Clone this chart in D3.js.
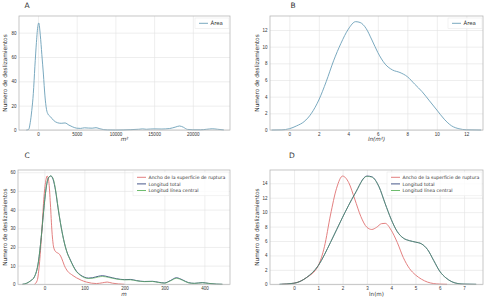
<!DOCTYPE html>
<html>
<head>
<meta charset="utf-8">
<script src="https://cdn.jsdelivr.net/npm/d3@7"></script>
<style>
  body { margin: 0; background: #fff; }
  svg { display: block; font-family: "DejaVu Sans", sans-serif; }
</style>
</head>
<body>
<svg id="chart" width="485" height="300"></svg>
<script>
// Datos (densidad escalada -> número de deslizamientos)

// A: área en m2
const areaX = [-1500, -1200, -1000, -800, -600, -400, -200, 0, 100, 300, 500, 700, 900, 1100, 1300, 1600, 2000, 2500, 3000, 3500, 4000, 4500, 5000, 5500, 6000, 6500, 7000, 7500, 8000, 8500, 9000, 10000, 11000, 12000, 13000, 13500, 14000, 14500, 15000, 16000, 17000, 17800, 18300, 18800, 19300, 20000, 21000, 21800, 22500, 23200, 24000];
const areaY = [0, 0.5, 6, 16, 30, 52, 72, 86, 88, 78, 62, 46, 28, 17, 13, 11, 8, 6, 5.5, 5.8, 4, 2.5, 1.5, 1.3, 1.8, 1.6, 1.5, 1.9, 1.0, 0.3, 0.1, 0, 0.1, 0.3, 0.6, 0.9, 0.6, 0.8, 0.9, 0.8, 1.2, 2.5, 3.3, 2.2, 0.5, 0.2, 0.2, 0.6, 1.0, 0.6, 0.1];

// B: ln(m2)
const lnAreaX = [-1.2, -0.5, 0, 0.5, 1, 1.5, 2, 2.5, 3, 3.5, 4, 4.5, 4.8, 5.2, 5.6, 6, 6.5, 7, 7.5, 8, 8.5, 9, 9.5, 10, 10.5, 11, 11.5, 12, 13];
const lnAreaY = [0, 0.02, 0.15, 0.5, 1.0, 2.0, 3.6, 5.8, 8.3, 10.4, 12.1, 13.0, 12.9, 12.2, 10.8, 9.3, 7.9, 7.2, 6.9, 6.4, 5.5, 4.6, 3.5, 2.4, 1.3, 0.5, 0.15, 0.03, 0];

// C: longitudes en m
const anchoX = [-25, -18, -12, -6, -1, 4, 7, 11, 15, 19, 23, 28, 33, 38, 43, 50, 58, 68, 80, 92, 105, 118, 130, 145, 157, 170, 185, 200];
const anchoY = [0, 2, 12, 30, 47, 56, 58, 55, 43, 28, 20, 17.5, 16.8, 16, 14, 10, 7, 5.2, 3.5, 2.2, 1.2, 0.6, 0.4, 0.8, 1.2, 0.6, 0.2, 0];
const longX = [-55, -45, -35, -25, -15, -8, -2, 4, 10, 16, 22, 28, 34, 40, 48, 56, 65, 80, 90, 100, 110, 120, 135, 145, 160, 180, 200, 215, 230, 250, 270, 285, 300, 315, 330, 345, 360, 375, 395, 410, 430, 445];
const longY = [0, 0.5, 1.8, 4, 12, 25, 39, 51, 57, 58, 56, 50, 41, 33, 24, 17.5, 13, 7, 5, 3.8, 3.3, 3.5, 4.3, 4.6, 4.0, 3.0, 2.5, 2.6, 2.0, 1.5, 1.6, 1.1, 0.7, 2.0, 3.5, 2.4, 0.9, 0.5, 0.9, 0.5, 0.1, 0];
const centralY = [0, 0.5, 1.8, 4, 12, 25, 39, 51, 57, 58, 56.5, 50.5, 41.5, 33, 24, 17.5, 12.8, 6.8, 4.8, 3.6, 3.1, 3.2, 3.9, 4.2, 3.7, 2.8, 2.4, 2.4, 1.9, 1.4, 1.5, 1.0, 0.6, 1.8, 3.2, 2.2, 0.8, 0.5, 0.8, 0.5, 0.1, 0];

// D: ln(m)
const lnAnchoX = [-0.5, 0, 0.5, 1, 1.25, 1.5, 1.75, 2, 2.25, 2.5, 2.75, 3, 3.2, 3.4, 3.6, 3.75, 4, 4.25, 4.5, 4.75, 5, 5.25, 5.5, 5.75, 6, 6.3];
const lnAnchoY = [0, 0.15, 0.9, 2.6, 5.2, 9.6, 13.3, 15.0, 14.1, 11.8, 9.4, 7.9, 7.6, 7.9, 8.4, 8.45, 7.5, 5.8, 3.7, 2.2, 1.3, 0.7, 0.3, 0.1, 0.03, 0];
const lnLongX = [-0.6, 0, 0.5, 1, 1.5, 2, 2.5, 3, 3.2, 3.5, 3.75, 4, 4.25, 4.5, 4.75, 5, 5.25, 5.5, 5.75, 6, 6.25, 6.5, 6.75, 7, 7.5];
const lnLongY = [0, 0.15, 0.9, 2.6, 5.8, 9.3, 12.5, 15.0, 14.9, 13.5, 11.2, 9.0, 7.3, 6.4, 6.05, 5.85, 5.6, 4.8, 3.3, 1.8, 0.9, 0.35, 0.1, 0.03, 0];
const lnCentralY = [0, 0.15, 0.9, 2.6, 5.8, 9.3, 12.5, 14.95, 14.85, 13.5, 11.2, 9.0, 7.3, 6.4, 6.05, 5.85, 5.6, 4.8, 3.3, 1.8, 0.9, 0.35, 0.1, 0.03, 0];

const xTicksA = [0, 5000, 10000, 15000, 20000];
const yTicksA = [0, 20, 40, 60, 80];
const xTicksB = [0, 2, 4, 6, 8, 10, 12];
const yTicksB = [0, 2, 4, 6, 8, 10, 12];
const xTicksC = [0, 100, 200, 300, 400];
const yTicksC = [0, 10, 20, 30, 40, 50, 60];
const xTicksD = [0, 1, 2, 3, 4, 5, 6, 7];
const yTicksD = [0, 2, 4, 6, 8, 10, 12, 14];

const seriesNames = ["Ancho de la superficie de ruptura", "Longitud total", "Longitud línea central"];
const COL_AREA = "#6b9fb8";
const COL_RED = "#e07272";
const COL_BLUE = "#34467f";
const COL_GREEN = "#5fb65f";

const yLabel = "Numero de deslizamientos";

const zip = (xs, ys) => xs.map((x, i) => [x, ys[i]]);

const panels = [
  {
    title: "A", tx: 27, ty: 8,
    box: [19, 16, 230, 130], xDom: [-2450, 24800], yDom: [0, 93.7],
    xTicks: xTicksA, yTicks: yTicksA, xlab: "m²", xlabItalic: true,
    series: [{ name: "Área", color: COL_AREA, pts: zip(areaX, areaY) }],
    legend: { x: 195, y: 18, w: 35 }, ylabX: 5
  },
  {
    title: "B", tx: 293, ty: 8,
    box: [270, 16, 483, 130], xDom: [-1.31, 13.13], yDom: [0, 13.68],
    xTicks: xTicksB, yTicks: yTicksB, xlab: "ln(m²)", xlabItalic: true,
    series: [{ name: "Área", color: COL_AREA, pts: zip(lnAreaX, lnAreaY) }],
    legend: { x: 448, y: 18, w: 35 }, ylabX: 257
  },
  {
    title: "C", tx: 27, ty: 158,
    box: [18, 170, 230, 284.3], xDom: [-66, 464], yDom: [0, 61.2],
    xTicks: xTicksC, yTicks: yTicksC, xlab: "m", xlabItalic: true,
    series: [
      { name: seriesNames[0], color: COL_RED, pts: zip(anchoX, anchoY) },
      { name: seriesNames[1], color: COL_BLUE, pts: zip(longX, longY) },
      { name: seriesNames[2], color: COL_GREEN, pts: zip(longX, centralY), op: 0.75 }
    ],
    legend: { x: 133, y: 172, w: 97 }, ylabX: 5
  },
  {
    title: "D", tx: 292, ty: 158,
    box: [270, 170, 483, 284.3], xDom: [-0.99, 7.78], yDom: [0, 15.84],
    xTicks: xTicksD, yTicks: yTicksD, xlab: "ln(m)", xlabItalic: false,
    series: [
      { name: seriesNames[0], color: COL_RED, pts: zip(lnAnchoX, lnAnchoY) },
      { name: seriesNames[1], color: COL_BLUE, pts: zip(lnLongX, lnLongY) },
      { name: seriesNames[2], color: COL_GREEN, pts: zip(lnLongX, lnCentralY), op: 0.55 }
    ],
    legend: { x: 387, y: 172, w: 96 }, ylabX: 257
  }
];

const svg = d3.select("#chart");

function drawPanel(p) {
  const [x0, y0, x1, y1] = p.box;
  const x = d3.scaleLinear().domain(p.xDom).range([x0, x1]);
  const y = d3.scaleLinear().domain(p.yDom).range([y1, y0]);
  const g = svg.append("g");

  // Rejilla
  g.append("g")
    .attr("transform", `translate(0,${y1})`)
    .call(d3.axisBottom(x).tickValues(p.xTicks).tickSize(-(y1 - y0)).tickFormat(d3.format("d")))
    .call(a => a.select(".domain").remove())
    .call(a => a.selectAll("line").attr("stroke", "#e3e3e3").attr("stroke-width", 0.6))
    .call(a => a.selectAll("text").attr("y", 2.6).attr("fill", "#333").style("font-size", "4.5px"));

  g.append("g")
    .attr("transform", `translate(${x0},0)`)
    .call(d3.axisLeft(y).tickValues(p.yTicks).tickSize(-(x1 - x0)).tickFormat(d3.format("d")))
    .call(a => a.select(".domain").remove())
    .call(a => a.selectAll("line").attr("stroke", "#e3e3e3").attr("stroke-width", 0.6))
    .call(a => a.selectAll("text").attr("x", -2.5).attr("fill", "#333").style("font-size", "4.5px"));

  // Curvas
  const line = d3.line()
    .x(d => x(d[0]))
    .y(d => y(d[1]))
    .curve(d3.curveMonotoneX);

  p.series.forEach(s => {
    g.append("path")
      .datum(s.pts)
      .attr("fill", "none")
      .attr("stroke", s.color)
      .attr("stroke-opacity", s.op || 1)
      .attr("stroke-width", 0.9)
      .attr("d", line);
  });

  // Marco
  g.append("rect")
    .attr("x", x0).attr("y", y0)
    .attr("width", x1 - x0).attr("height", y1 - y0)
    .attr("fill", "none")
    .attr("stroke", "#b8b8b8")
    .attr("stroke-width", 0.8);

  // Leyenda
  const lg = g.append("g").attr("transform", `translate(${p.legend.x},${p.legend.y})`);
  const rowH = 6.6;
  lg.append("rect")
    .attr("width", p.legend.w - 1)
    .attr("height", p.series.length * rowH + 4)
    .attr("fill", "#fff")
    .attr("fill-opacity", 0.8)
    .attr("stroke", "#e6e6e6")
    .attr("stroke-width", 0.5);
  p.series.forEach((s, i) => {
    const yy = 5.3 + i * rowH;
    lg.append("line")
      .attr("x1", 4).attr("x2", 13)
      .attr("y1", yy).attr("y2", yy)
      .attr("stroke", s.color)
      .attr("stroke-width", 0.9);
    lg.append("text")
      .attr("x", 15.5).attr("y", yy)
      .attr("dy", "0.35em")
      .attr("fill", "#333")
      .style("font-size", p.series.length > 1 ? "4.6px" : "5.4px")
      .text(s.name);
  });

  // Etiquetas de ejes
  g.append("text")
    .attr("x", (x0 + x1) / 2)
    .attr("y", y1 + 11.3)
    .attr("text-anchor", "middle")
    .attr("fill", "#333")
    .style("font-size", "5.6px")
    .style("font-style", p.xlabItalic ? "italic" : "normal")
    .text(p.xlab);

  g.append("text")
    .attr("transform", `translate(${p.ylabX},${(y0 + y1) / 2}) rotate(-90)`)
    .attr("text-anchor", "middle")
    .attr("dy", "0.35em")
    .attr("fill", "#333")
    .style("font-size", "5.8px")
    .text(yLabel);

  // Título del panel
  g.append("text")
    .attr("x", p.tx).attr("y", p.ty)
    .attr("text-anchor", "middle")
    .attr("fill", "#333")
    .style("font-size", "7.5px")
    .text(p.title);
}

panels.forEach(drawPanel);
</script>
</body>
</html>
